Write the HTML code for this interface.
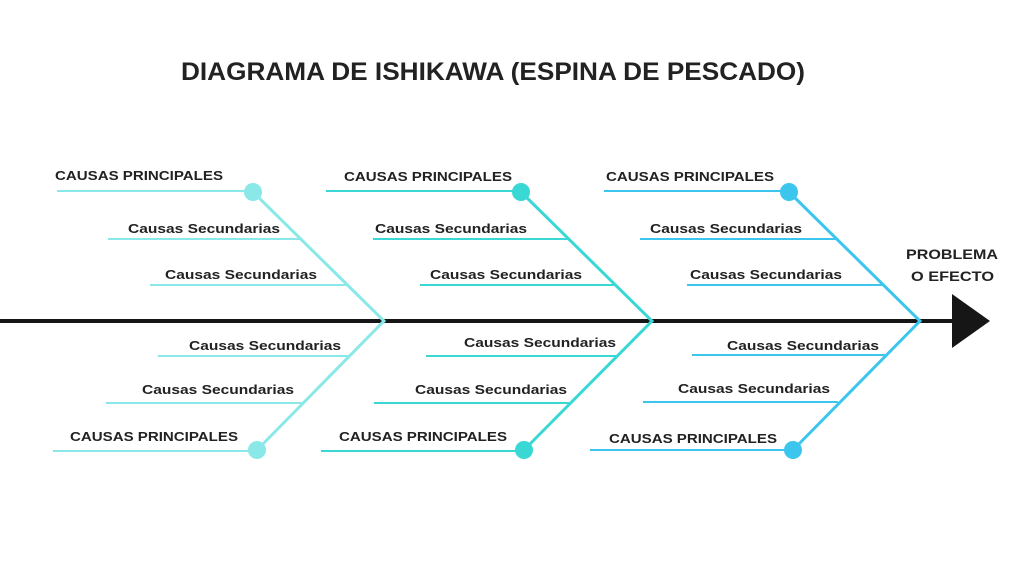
<!DOCTYPE html>
<html><head><meta charset="utf-8"><style>
html,body{margin:0;padding:0;background:#fff;}
svg{display:block;}
text{font-family:"Liberation Sans",Arial,sans-serif;font-weight:bold;fill:#222;}
</style></head><body>
<svg width="1024" height="576" viewBox="0 0 1024 576">
<text x="181" y="80" font-size="25" textLength="624" lengthAdjust="spacingAndGlyphs" fill="#111">DIAGRAMA DE ISHIKAWA (ESPINA DE PESCADO)</text>
<line x1="0" y1="321" x2="958" y2="321" stroke="#161616" stroke-width="4"/>
<polygon points="952,294 990,321 952,348" fill="#161616"/>
<text x="906" y="259" font-size="14" textLength="92" lengthAdjust="spacingAndGlyphs">PROBLEMA</text>
<text x="911" y="281" font-size="14" textLength="83" lengthAdjust="spacingAndGlyphs">O EFECTO</text>

<!-- group 1 -->
<g stroke="#8ae8e8" stroke-width="2" fill="none">
<line x1="57" y1="191" x2="253" y2="191"/>
<line x1="108" y1="239" x2="300" y2="239"/>
<line x1="150" y1="285" x2="346" y2="285"/>
<line x1="158" y1="356" x2="348" y2="356"/>
<line x1="106" y1="403" x2="302" y2="403"/>
<line x1="53" y1="451" x2="257" y2="451"/>
<polyline points="253,192 384,321 257,450" stroke-width="3"/>
</g>
<circle cx="253" cy="192" r="9" fill="#8ae8e8"/>
<circle cx="257" cy="450" r="9" fill="#8ae8e8"/>
<g font-size="13">
<text x="55" y="180" textLength="168" lengthAdjust="spacingAndGlyphs">CAUSAS PRINCIPALES</text>
<text x="128" y="233" textLength="152" lengthAdjust="spacingAndGlyphs">Causas Secundarias</text>
<text x="165" y="279" textLength="152" lengthAdjust="spacingAndGlyphs">Causas Secundarias</text>
<text x="189" y="350" textLength="152" lengthAdjust="spacingAndGlyphs">Causas Secundarias</text>
<text x="142" y="394" textLength="152" lengthAdjust="spacingAndGlyphs">Causas Secundarias</text>
<text x="70" y="441" textLength="168" lengthAdjust="spacingAndGlyphs">CAUSAS PRINCIPALES</text>
</g>

<!-- group 2 -->
<g stroke="#3ad8d4" stroke-width="2" fill="none">
<line x1="326" y1="191" x2="521" y2="191"/>
<line x1="373" y1="239" x2="568" y2="239"/>
<line x1="420" y1="285" x2="615" y2="285"/>
<line x1="426" y1="356" x2="616" y2="356"/>
<line x1="374" y1="403" x2="570" y2="403"/>
<line x1="321" y1="451" x2="524" y2="451"/>
<polyline points="521,192 652,321 524,450" stroke-width="3"/>
</g>
<circle cx="521" cy="192" r="9" fill="#3ad8d4"/>
<circle cx="524" cy="450" r="9" fill="#3ad8d4"/>
<g font-size="13">
<text x="344" y="181" textLength="168" lengthAdjust="spacingAndGlyphs">CAUSAS PRINCIPALES</text>
<text x="375" y="233" textLength="152" lengthAdjust="spacingAndGlyphs">Causas Secundarias</text>
<text x="430" y="279" textLength="152" lengthAdjust="spacingAndGlyphs">Causas Secundarias</text>
<text x="464" y="347" textLength="152" lengthAdjust="spacingAndGlyphs">Causas Secundarias</text>
<text x="415" y="394" textLength="152" lengthAdjust="spacingAndGlyphs">Causas Secundarias</text>
<text x="339" y="441" textLength="168" lengthAdjust="spacingAndGlyphs">CAUSAS PRINCIPALES</text>
</g>

<!-- group 3 -->
<g stroke="#3cc6ee" stroke-width="2" fill="none">
<line x1="604" y1="191" x2="789" y2="191"/>
<line x1="640" y1="239" x2="836" y2="239"/>
<line x1="687" y1="285" x2="883" y2="285"/>
<line x1="692" y1="355" x2="885" y2="355"/>
<line x1="643" y1="402" x2="838" y2="402"/>
<line x1="590" y1="450" x2="795" y2="450"/>
<polyline points="789,192 920,321 793,450" stroke-width="3"/>
</g>
<circle cx="789" cy="192" r="9" fill="#3cc6ee"/>
<circle cx="793" cy="450" r="9" fill="#3cc6ee"/>
<g font-size="13">
<text x="606" y="181" textLength="168" lengthAdjust="spacingAndGlyphs">CAUSAS PRINCIPALES</text>
<text x="650" y="233" textLength="152" lengthAdjust="spacingAndGlyphs">Causas Secundarias</text>
<text x="690" y="279" textLength="152" lengthAdjust="spacingAndGlyphs">Causas Secundarias</text>
<text x="727" y="350" textLength="152" lengthAdjust="spacingAndGlyphs">Causas Secundarias</text>
<text x="678" y="393" textLength="152" lengthAdjust="spacingAndGlyphs">Causas Secundarias</text>
<text x="609" y="443" textLength="168" lengthAdjust="spacingAndGlyphs">CAUSAS PRINCIPALES</text>
</g>
</svg>
</body></html>
